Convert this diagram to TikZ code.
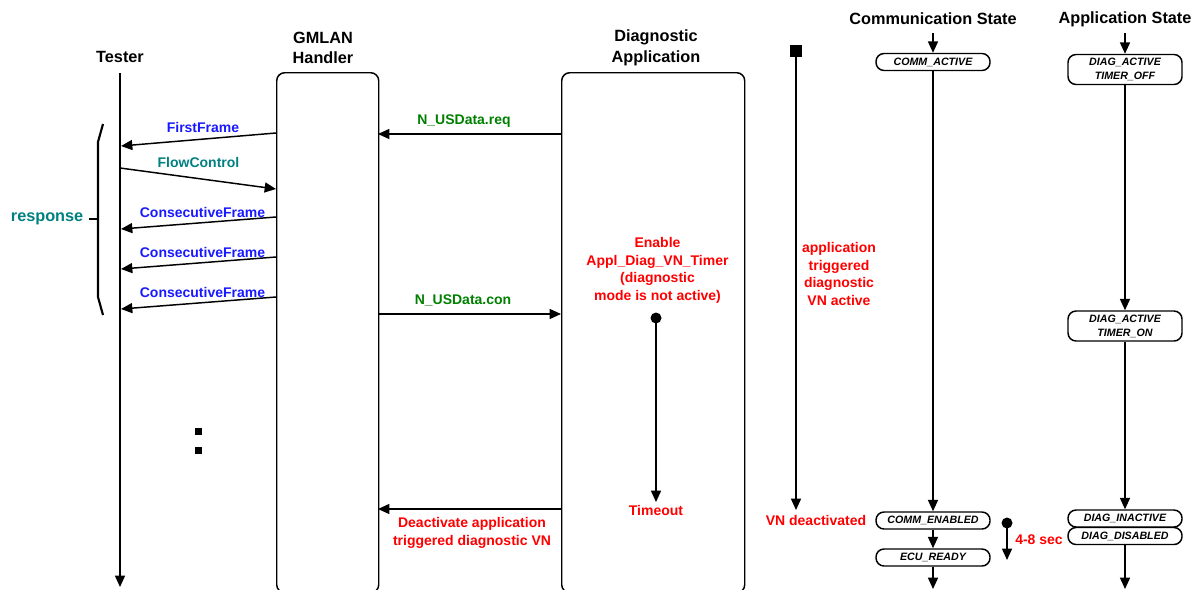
\documentclass[tikz,border=0pt]{standalone}
\usepackage{fontspec}
\setmainfont{Liberation Sans}
\usetikzlibrary{arrows.meta}
\definecolor{msgblue}{RGB}{25,25,255}
\definecolor{msgteal}{RGB}{0,128,128}
\definecolor{msggreen}{RGB}{0,128,0}
\definecolor{note}{RGB}{255,0,0}

\begin{document}
\begin{tikzpicture}[x=0.75pt,y=-0.75pt,
  line width=1.1pt,
  arr/.style={-{Triangle[length=8.5pt,width=7.5pt]}},
  head/.style={font=\fontsize{12.2}{15.5}\selectfont\bfseries, align=center, inner sep=0pt},
  msg/.style={font=\fontsize{10.5}{13.3}\selectfont\bfseries, align=center, inner sep=0pt},
  block/.style={draw, rounded corners=6pt, inner sep=0pt, anchor=north west},
  state/.style={draw, rounded corners=6pt, minimum width=85.5pt, minimum height=12.75pt,
    font=\fontsize{8}{10.5}\selectfont\bfseries\itshape, align=center, inner sep=0pt},
  state2/.style={state, minimum height=22.5pt},
  dot/.style={circle, fill, inner sep=0pt, minimum size=8.25pt}
]
\useasboundingbox (0,0) rectangle (1199,589);

% ---------- column headings ----------
\node[head] (hT) at (120,57) {Tester};
\node[head] (hG) at (323,48) {GMLAN\\Handler};
\node[head] (hD) at (656,48) {Diagnostic\\Application};
\node[head] (hC) at (933,19) {Communication State};
\node[head] (hA) at (1125,19) {Application State};

% ---------- lifelines and blocks ----------
\coordinate (tTop) at (120,73);
\coordinate (tBot) at (120,587);
\draw[arr] (tTop) -- (tBot);
\node[block, minimum width=76.5pt, minimum height=390pt] (gm) at (276,72) {};
\node[block, minimum width=137.25pt, minimum height=390pt] (da) at (561,72) {};

% ---------- response bracket ----------
\coordinate (bTop) at (103,124);
\coordinate (bBot) at (103,315);
\coordinate (bTick) at (89,219);
\draw[line width=1.6pt] (bTop) -- (98,142) -- (98,297) -- (bBot);
\draw[line width=1.6pt] (bTick) -- (98,219);
\node[font=\fontsize{12.2}{14}\selectfont\bfseries, text=msgteal, anchor=east, inner sep=0pt] (resp) at (84,219) {response};

% ---------- segmented transfer ----------
\coordinate (ff1) at (276,133);  \coordinate (ff2) at (121,146);
\coordinate (fc1) at (120,168);  \coordinate (fc2) at (276,189);
\coordinate (c11) at (276,217);  \coordinate (c12) at (121,229);
\coordinate (c21) at (276,257);  \coordinate (c22) at (121,269);
\coordinate (c31) at (276,297);  \coordinate (c32) at (121,309);
\draw[arr] (ff1) -- (ff2);
\draw[arr] (fc1) -- (fc2);
\draw[arr] (c11) -- (c12);
\draw[arr] (c21) -- (c22);
\draw[arr] (c31) -- (c32);
\node[msg, text=msgblue] (lff) at (203,127) {FirstFrame};
\node[msg, text=msgteal] (lfc) at (198.5,162) {FlowControl};
\node[msg, text=msgblue] (lc1) at (202.5,212) {ConsecutiveFrame};
\node[msg, text=msgblue] (lc2) at (202.5,252) {ConsecutiveFrame};
\node[msg, text=msgblue] (lc3) at (202.5,292) {ConsecutiveFrame};

% ---------- gap marks ----------
\fill (194.5,427.5) rectangle (201.5,434.5);
\fill (194.5,446.5) rectangle (201.5,453.5);

% ---------- service primitives ----------
\coordinate (rq1) at (561,134); \coordinate (rq2) at (378,134);
\coordinate (cn1) at (378,314); \coordinate (cn2) at (561,314);
\coordinate (dv1) at (561,509); \coordinate (dv2) at (378,509);
\draw[arr] (rq1) -- (rq2);
\draw[arr] (cn1) -- (cn2);
\draw[arr] (dv1) -- (dv2);
\node[msg, text=msggreen] (lrq) at (464,121) {N\_USData.req};
\node[msg, text=msggreen] (lcn) at (463,300) {N\_USData.con};
\node[msg, text=note] (ldv) at (472,533) {Deactivate application\\triggered diagnostic VN};

% ---------- VN timer ----------
\node[msg, text=note] (len) at (657.5,270.5) {Enable\\Appl\_Diag\_VN\_Timer\\(diagnostic\\mode is not active)};
\node[dot] (tdot) at (656,318) {};
\coordinate (tEnd) at (656,502);
\draw[arr] (tdot.center) -- (tEnd);
\node[msg, text=note] (lto) at (656,510) {Timeout};

% ---------- VN state ----------
\node[fill, minimum size=9pt, inner sep=0pt] (vsq) at (796,51) {};
\coordinate (vEnd) at (796,510);
\draw[arr] (vsq.center) -- (vEnd);
\node[msg, text=note] (lva) at (839,274) {application\\triggered\\diagnostic\\VN active};
\node[msg, text=note] (lvd) at (816,520) {VN deactivated};

% ---------- communication state ----------
\node[state] (cact) at (933,62) {COMM\_ACTIVE};
\node[state] (cen) at (933,520.5) {COMM\_ENABLED};
\node[state] (ecu) at (933,557.5) {ECU\_READY};
\coordinate (cIn) at (933,33);
\coordinate (cOut) at (933,589);
\draw[arr] (cIn) -- (cact.north);
\draw[arr] (cact.south) -- (cen.north);
\draw[arr] (cen.south) -- (ecu.north);
\draw[arr] (ecu.south) -- (cOut);

\node[dot] (sdot) at (1007,523) {};
\coordinate (sEnd) at (1007,560);
\draw[arr] (sdot.center) -- (sEnd);
\node[msg, text=note] (lsec) at (1039,540) {4-8 sec};

% ---------- application state ----------
\node[state2] (aoff) at (1125,69.5) {DIAG\_ACTIVE\\TIMER\_OFF};
\node[state2] (aon) at (1125,326) {DIAG\_ACTIVE\\TIMER\_ON};
\node[state] (ain) at (1125,518.5) {DIAG\_INACTIVE};
\node[state] (adis) at (1125,536) {DIAG\_DISABLED};
\coordinate (aIn) at (1125,33);
\coordinate (aOut) at (1125,589);
\draw[arr] (aIn) -- (aoff.north);
\draw[arr] (aoff.south) -- (aon.north);
\draw[arr] (aon.south) -- (ain.north);
\draw[arr] (adis.south) -- (aOut);
\end{tikzpicture}
\end{document}
